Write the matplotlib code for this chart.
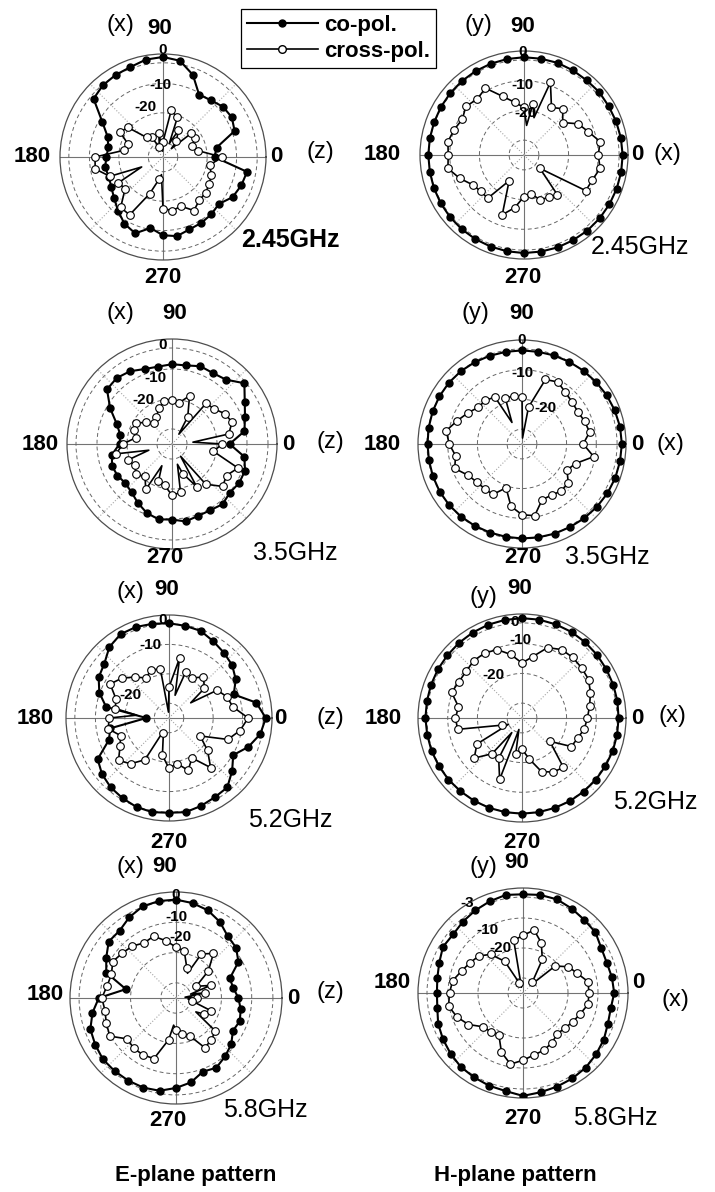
import numpy as np
import matplotlib.pyplot as plt
from matplotlib.lines import Line2D

plt.rcParams['font.family'] = ['Liberation Sans', 'DejaVu Sans']

W, H = 715, 1192

# measured pattern, dB, every 10 deg (0..350)
angles = list(range(0, 360, 10))

co_e245 = [-17.5, -16.5, -9.1, -8.0, -8.4, -9.8, -10.5, -5.3, -1.8, -1.0, -1.4, -2.5,
           -2.8, -3.2, -4.2, -11.2, -15.0, -16.1, -15.8, -15.0, -15.4, -14.7, -13.3, -11.2,
           -8.8, -7.4, -10.5, -8.4, -7.7, -8.8, -9.1, -9.5, -10.2, -7.7, -6.7, -6.0]
cross_e245 = [-15.0, -22.8, -24.5, -22.4, -22.4, -28.0, -24.5, -20.7, -18.9, -29.8, -26.6, -31.5,
              -27.3, -26.3, -19.3, -18.2, -22.4, -21.7, -11.9, -11.6, -15.8, -17.5, -18.2, -12.6,
              -12.3, -21.7, -27.3, -17.5, -16.5, -17.2, -14.0, -15.8, -16.1, -16.8, -17.5, -18.9]
nulls_e245 = [(45, -31), (65, -30), (95, -33), (265, -29), (205, -27)]

co_h245 = [-1.8, -1.9, -2.0, -2.1, -2.0, -2.2, -2.1, -2.0, -2.1, -2.1, -2.2, -2.3,
           -2.4, -2.5, -2.6, -2.7, -2.8, -2.8, -2.8, -2.8, -2.7, -2.6, -2.5, -2.4,
           -2.3, -2.2, -2.1, -2.0, -2.0, -1.9, -1.9, -1.8, -1.8, -1.8, -1.8, -1.8]
cross_h245 = [-10.0, -9.0, -12.0, -14.0, -18.0, -14.7, -16.5, -9.0, -17.5, -19.0, -17.0, -14.0,
              -9.0, -10.5, -9.5, -11.0, -10.0, -9.0, -9.5, -9.0, -12.0, -15.0, -16.0, -16.0,
              -25.0, -13.6, -17.0, -21.0, -21.7, -19.0, -18.5, -17.5, -28.0, -11.0, -10.5, -9.0]
nulls_h245 = [(85, -25), (75, -22)]

co_e35 = [-15.8, -10.5, -9.1, -7.0, -3.5, -7.0, -7.7, -7.4, -8.4, -8.4, -8.8, -8.4,
          -7.0, -6.3, -6.7, -11.2, -15.4, -17.5, -17.5, -14.7, -13.7, -14.0, -14.7, -14.0,
          -12.3, -10.5, -9.5, -9.8, -8.8, -9.5, -9.5, -8.8, -9.8, -9.1, -9.1, -10.5]
cross_e35 = [-18.2, -15.8, -13.7, -14.7, -16.8, -17.2, -24.5, -17.9, -21.0, -20.3, -20.3, -22.4,
             -24.5, -25.9, -23.8, -21.0, -21.4, -22.8, -18.6, -16.1, -19.3, -20.7, -19.3, -21.0,
             -17.5, -21.7, -21.0, -17.9, -18.6, -24.5, -18.6, -17.5, -13.0, -14.0, -11.6, -21.0]
nulls_e35 = [(5, -28), (55, -31), (245, -27), (285, -28), (305, -30), (195, -27)]

co_h35 = [-1.4, -1.5, -1.8, -2.1, -2.5, -2.8, -3.1, -3.3, -3.5, -3.5, -3.5, -3.4,
          -3.2, -3.0, -2.9, -2.9, -3.0, -3.1, -3.2, -3.2, -3.1, -3.0, -3.0, -3.1,
          -3.2, -3.3, -3.3, -3.2, -3.1, -2.9, -2.7, -2.4, -2.1, -1.8, -1.6, -1.5]
cross_h35 = [-14.4, -11.9, -12.6, -13.3, -13.0, -12.3, -10.9, -11.9, -22.4, -19.3, -18.6, -18.6,
             -16.8, -15.8, -15.8, -14.0, -11.9, -9.1, -10.5, -12.3, -10.9, -14.0, -15.1, -15.4,
             -15.4, -19.3, -13.7, -11.2, -10.5, -15.1, -15.1, -14.4, -14.7, -17.5, -15.8, -10.5]
nulls_h35 = [(85, -33), (115, -27)]

co_e52 = [-2.1, -4.9, -11.6, -8.8, -7.0, -6.0, -4.9, -3.5, -3.2, -2.8, -2.5, -2.1,
          -2.1, -3.5, -6.3, -7.4, -9.8, -13.3, -27.3, -14.7, -13.3, -7.0, -5.3, -4.2,
          -3.5, -2.8, -2.5, -2.8, -2.5, -3.2, -3.9, -4.2, -7.0, -9.8, -6.3, -3.5]
cross_e52 = [-8.1, -13.0, -14.0, -16.1, -19.3, -16.8, -19.3, -18.2, -14.4, -24.5, -18.2, -17.5,
             -19.3, -16.8, -14.0, -11.9, -15.8, -16.5, -14.7, -14.0, -17.5, -15.8, -12.6, -14.7,
             -18.6, -29.4, -22.1, -17.9, -19.3, -16.1, -19.3, -13.0, -17.9, -22.8, -13.7, -10.5]
nulls_e52 = [(95, -33), (75, -27), (245, -29), (35, -26), (175, -24)]

co_h52 = [-2.5, -2.4, -2.3, -2.2, -2.0, -1.8, -1.6, -1.5, -1.4, -1.4, -1.5, -1.6,
          -1.8, -2.0, -2.2, -2.3, -2.4, -2.5, -2.5, -2.6, -2.6, -2.7, -2.7, -2.8,
          -2.8, -2.8, -2.8, -2.8, -2.8, -2.8, -2.7, -2.7, -2.6, -2.6, -2.5, -2.5]
cross_h52 = [-13.0, -11.9, -10.5, -9.1, -8.8, -8.4, -8.4, -9.8, -14.0, -16.5, -13.3, -10.5,
             -9.8, -9.8, -10.5, -10.5, -9.8, -13.3, -12.6, -13.0, -28.0, -17.5, -14.0, -19.3,
             -19.3, -13.0, -22.8, -24.5, -21.0, -15.8, -14.0, -13.3, -22.8, -15.8, -15.1, -13.7]
nulls_h52 = [(205, -30), (235, -29), (255, -31)]

co_e58 = [-14.4, -15.8, -16.1, -11.2, -9.1, -8.4, -6.0, -4.2, -3.2, -2.5, -2.5, -2.8,
          -4.2, -6.0, -6.0, -8.4, -10.5, -18.2, -9.5, -7.0, -4.9, -4.2, -3.5, -3.5,
          -3.5, -3.5, -3.9, -5.3, -6.7, -9.1, -8.4, -9.8, -11.2, -13.3, -12.6, -13.3]
cross_e58 = [-28.0, -25.2, -22.8, -27.3, -21.0, -15.8, -18.2, -24.5, -19.3, -18.2, -15.8, -13.3,
             -14.0, -12.6, -11.9, -10.9, -12.3, -11.9, -10.5, -11.2, -10.5, -9.8, -14.0, -13.3,
             -13.3, -13.7, -21.0, -24.5, -22.8, -21.7, -16.1, -16.8, -18.2, -24.5, -22.8, -29.8]
nulls_e58 = [(5, -32), (15, -30), (355, -31), (265, -26), (325, -27), (65, -26)]

co_h58 = [-4.6, -4.9, -5.3, -4.9, -3.5, -3.2, -2.5, -1.8, -1.8, -2.1, -1.8, -2.5,
          -3.2, -3.9, -4.6, -4.2, -5.3, -6.0, -6.3, -6.0, -4.9, -4.2, -3.5, -2.8,
          -2.5, -2.1, -1.8, -0.7, -1.4, -1.8, -2.1, -2.5, -3.2, -3.9, -4.9, -5.3]
cross_h58 = [-13.0, -13.0, -15.8, -17.5, -21.0, -30.1, -22.1, -17.2, -13.7, -15.8, -17.2, -31.5,
             -22.8, -18.2, -15.8, -14.7, -13.3, -11.2, -10.5, -9.8, -11.6, -14.0, -17.5, -18.2,
             -18.9, -14.0, -10.9, -12.6, -14.0, -14.7, -15.8, -17.2, -16.8, -15.8, -14.7, -13.0]
nulls_h58 = [(105, -33), (45, -31)]

freqs = ['2.45GHz', '3.5GHz', '5.2GHz', '5.8GHz']


def px(x, y):
    return x / W, 1 - y / H


def draw(ax, co, cross, nulls):
    ax.set_ylim(-35, 0)
    ax.set_yticks([-30, -20, -10, -3])
    ax.set_yticklabels([])
    ax.set_xticks(np.deg2rad([0, 90, 180, 270]))
    ax.set_xticklabels([])
    ax.tick_params(length=0)
    ax.yaxis.grid(True, color='0.4', ls=(0, (4, 3)), lw=0.7)
    ax.xaxis.grid(True, color='0.45', ls='-', lw=0.8)
    ax.spines['polar'].set_color('0.3')
    ax.spines['polar'].set_linewidth(0.9)
    for a in (45, 135, 225, 315):
        ax.plot(np.deg2rad([a, a]), [-35, 0], color='0.65', ls=':', lw=0.8)

    th = np.deg2rad(angles + [360])
    ax.plot(th, co + [co[0]], color='k', lw=1.5, zorder=3)
    ax.plot(np.deg2rad(angles), co, 'o', ms=5, mfc='k', mec='k', zorder=4)

    pts = sorted(list(zip(angles, cross)) + nulls)
    pts.append((pts[0][0] + 360, pts[0][1]))
    ax.plot(np.deg2rad([p[0] for p in pts]), [p[1] for p in pts], color='k', lw=1.2, zorder=3)
    ax.plot(np.deg2rad(angles), cross, 'o', ms=5.5, mfc='white', mec='k', mew=0.8, zorder=4)


fig = plt.figure(figsize=(W / 100, H / 100), dpi=100)

panels = [
    (co_e245, cross_e245, nulls_e245, (163, 157, 103)),
    (co_h245, cross_h245, nulls_h245, (524, 155, 104)),
    (co_e35, cross_e35, nulls_e35, (172, 444, 105)),
    (co_h35, cross_h35, nulls_h35, (522, 444, 104)),
    (co_e52, cross_e52, nulls_e52, (169, 718, 103)),
    (co_h52, cross_h52, nulls_h52, (522, 718, 104)),
    (co_e58, cross_e58, nulls_e58, (176, 998, 106)),
    (co_h58, cross_h58, nulls_h58, (523, 993, 105)),
]

for co, cross, nulls, (cx, cy, r) in panels:
    ax = fig.add_axes([(cx - r) / W, 1 - (cy + r) / H, 2 * r / W, 2 * r / H], projection='polar')
    draw(ax, co, cross, nulls)

big = dict(fontsize=16, fontweight='bold', ha='center', va='center')
paren = dict(fontsize=17, ha='center', va='center')
small = dict(fontsize=11, fontweight='bold', ha='center', va='center')
freq = dict(fontsize=18, ha='center', va='center')

# per panel: up-axis letter, side-axis letter and label positions (px)
labels = [
    ('(x)', (120, 25), (160, 28), (32, 157), (276, 157), '(z)', (320, 152), (163, 277),
     (290, 240), [('0', 163, 50), ('-10', 160, 85), ('-20', 145, 107)]),
    ('(y)', (478, 25), (523, 27), (382, 154), (637, 154), '(x)', (667, 154), (523, 277),
     (640, 247), [('0', 523, 52), ('-10', 522, 85), ('-20', 525, 113)]),
    ('(x)', (120, 313), (175, 313), (40, 444), (288, 444), '(z)', (330, 442), (165, 557),
     (295, 553), [('0', 163, 345), ('-10', 155, 378), ('-20', 143, 400)]),
    ('(y)', (475, 313), (522, 313), (382, 444), (637, 444), '(x)', (670, 444), (523, 557),
     (607, 557), [('0', 522, 340), ('-10', 522, 373), ('-20', 545, 408)]),
    ('(x)', (130, 592), (167, 590), (35, 718), (280, 718), '(z)', (330, 718), (169, 843),
     (290, 820), [('0', 163, 620), ('-10', 150, 645), ('-20', 130, 695)]),
    ('(y)', (483, 597), (520, 588), (383, 718), (637, 718), '(x)', (672, 716), (522, 843),
     (655, 802), [('0', 515, 622), ('-10', 520, 640), ('-20', 493, 675)]),
    ('(x)', (130, 867), (165, 867), (45, 995), (293, 998), '(z)', (330, 992), (168, 1120),
     (265, 1110), [('0', 176, 895), ('-10', 176, 917), ('-20', 180, 937)]),
    ('(y)', (483, 867), (517, 863), (392, 983), (638, 983), '(x)', (675, 1000), (523, 1118),
     (615, 1118), [('-3', 467, 903), ('-10', 487, 930), ('-20', 500, 948)]),
]

for i, (up, up_pos, p90, p180, p0, side, side_pos, p270, pf, rlabels) in enumerate(labels):
    fig.text(*px(*up_pos), up, **paren)
    fig.text(*px(*p90), '90', **big)
    fig.text(*px(*p180), '180', **big)
    fig.text(*px(*p0), '0', **big)
    fig.text(*px(*side_pos), side, **paren)
    fig.text(*px(*p270), '270', **big)
    fw = 'bold' if i == 0 else 'normal'
    fig.text(*px(*pf), freqs[i // 2], fontweight=fw, **freq)
    for t, x, y in rlabels:
        fig.text(*px(x, y), t, **small)

fig.text(*px(196, 1176), 'E-plane pattern', **big)
fig.text(*px(515, 1176), 'H-plane pattern', **big)

handles = [
    Line2D([], [], color='k', lw=1.5, marker='o', ms=5, mfc='k', mec='k'),
    Line2D([], [], color='k', lw=1.2, marker='o', ms=5.5, mfc='white', mec='k'),
]
leg = fig.legend(handles, ['co-pol.', 'cross-pol.'], loc='upper left',
                 bbox_to_anchor=px(241, 9), frameon=True, fancybox=False,
                 edgecolor='k', framealpha=1, handlelength=3.2, handletextpad=0.3,
                 borderpad=0.25, borderaxespad=0, labelspacing=0.25,
                 prop=dict(size=16, weight='bold'))
leg.get_frame().set_linewidth(0.9)

fig.savefig('out.png', dpi=100)
